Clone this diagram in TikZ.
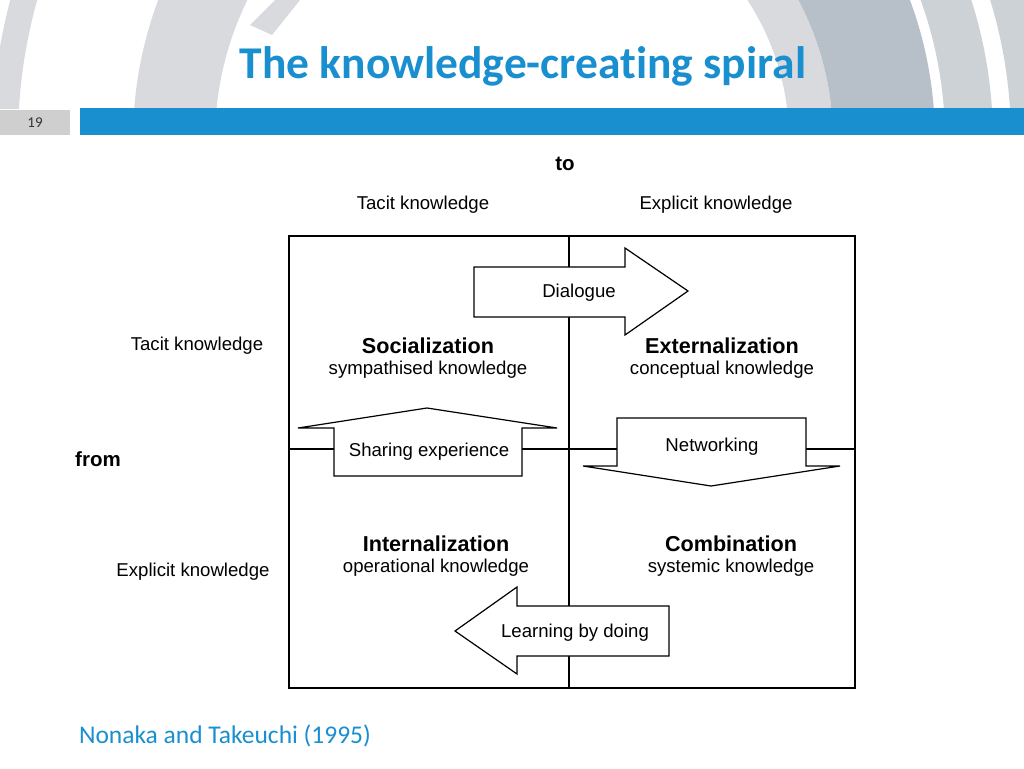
\documentclass[tikz,border=0pt]{standalone}
\usepackage{fontspec}
\setmainfont{Liberation Sans}
\newfontfamily\slidefont[Ligatures=NoCommon]{Carlito}
\definecolor{slideblue}{HTML}{1A8FCF}
\definecolor{bandgrey}{HTML}{D8DADD}
\definecolor{bandlight}{HTML}{CDD2D6}
\definecolor{bandblue}{HTML}{B7C0C8}
\definecolor{numgrey}{HTML}{CFCFCF}
\def\frameBox{(289,236) rectangle (855,688)}
\def\arrowDialogue{(474,267) -- (625,267) -- (625,248) -- (688,291) -- (625,335) -- (625,317) -- (474,317) -- cycle}
\def\arrowSharing{(334,476) -- (334,428) -- (298,428) -- (427,408) -- (557,428) -- (522,428) -- (522,476) -- cycle}
\def\arrowNetworking{(617,418) -- (806,418) -- (806,466) -- (840,466) -- (711,486) -- (583,466) -- (617,466) -- cycle}
\def\arrowLearning{(669,606) -- (517,606) -- (517,587) -- (455,631) -- (517,674) -- (517,656) -- (669,656) -- cycle}
\newcommand{\bandRing}[3]{\fill[#1,even odd rule] (533,140) circle (#2pt) (533,140) circle (#3pt);}
\newcommand{\quadLabel}[5]{\node[quadtitle] (#1) at (#2,#3) {#4};
  \node[quadsub] (#1sub) at (#2,#3+21) {#5};}
\begin{document}
\begin{tikzpicture}[x=1pt,y=-1pt,
  every node/.style={inner sep=0pt,anchor=base},
  plain/.style={font=\fontsize{18.6}{20}\selectfont},
  quadtitle/.style={font=\bfseries\fontsize{21.6}{24}\selectfont},
  quadsub/.style={plain},
  axislabel/.style={font=\bfseries\fontsize{20.5}{24}\selectfont},
  flowarrow/.style={draw,fill=white,line width=1.2pt,line join=miter}]
\useasboundingbox (0,0) rectangle (1024,768);
% background bands:
\begin{scope}
  \clip (0,0) rectangle (533,108);
  \bandRing{bandgrey}{541}{515}
  \bandRing{bandgrey}{400}{318}
  \fill[bandgrey] (275,0) -- (300,0) -- (272,35) -- (250,25) -- cycle;
\end{scope}
\begin{scope}
  \clip (533,0) rectangle (1024,108);
  \bandRing{bandgrey}{300}{256}
  \bandRing{bandblue}{402}{300}
  \bandRing{bandlight}{460}{412}
  \bandRing{bandlight}{620}{478}
\end{scope}
% header:
\fill[slideblue] (80,108) rectangle (1024,135);
\fill[numgrey] (0,110) rectangle (70,135);
\node[font=\slidefont\fontsize{15}{17}\selectfont,text=black!80] (pagenum) at (35,127) {19};
\node[font=\slidefont\bfseries\fontsize{45.5}{50}\selectfont,text=slideblue] (title) at (523,78) {The knowledge-creating spiral};
% outline:
\draw[line width=1.2pt] \frameBox;
\coordinate (midtop) at (569,236);
\coordinate (midbot) at (569,688);
\coordinate (midleft) at (289,449);
\coordinate (midright) at (855,449);
\draw[line width=1.2pt] (midtop) -- (midbot)
      (midleft) -- (midright);
% arrows:
\draw[flowarrow] \arrowDialogue;
\draw[flowarrow] \arrowSharing;
\draw[flowarrow] \arrowNetworking;
\draw[flowarrow] \arrowLearning;
% axis labels:
\node[axislabel] (to) at (565,170.5) {to};
\node[plain] (coltacit) at (423,209.5) {Tacit knowledge};
\node[plain] (colexplicit) at (716,209.5) {Explicit knowledge};
\node[axislabel] (from) at (98,466.5) {from};
\node[plain] (rowtacit) at (197,350.5) {Tacit knowledge};
\node[plain] (rowexplicit) at (193,576.5) {Explicit knowledge};
% quadrants:
\quadLabel{socialization}{428}{353.5}{Socialization}{sympathised knowledge}
\quadLabel{externalization}{722}{353.5}{Externalization}{conceptual knowledge}
\quadLabel{internalization}{436}{551.5}{Internalization}{operational knowledge}
\quadLabel{combination}{731}{551.5}{Combination}{systemic knowledge}
% arrow labels:
\node[plain] (dialogue) at (579,297.5) {Dialogue};
\node[plain] (sharing) at (429,456.5) {Sharing experience};
\node[plain] (networking) at (712,451.5) {Networking};
\node[plain] (learning) at (575,637.5) {Learning by doing};
% source:
\node[font=\slidefont\fontsize{25.5}{28}\selectfont,text=slideblue] (source) at (225,743) {Nonaka and Takeuchi (1995)};
\end{tikzpicture}
\end{document}
